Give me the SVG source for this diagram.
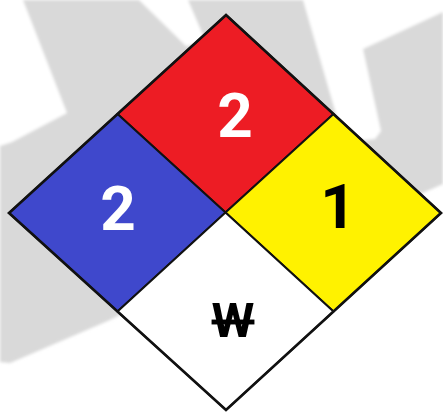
<svg xmlns="http://www.w3.org/2000/svg" width="443" height="412" viewBox="0 0 443 412">
<defs>
<style>
.q{stroke:#111;stroke-width:2;stroke-linejoin:miter}
.num{font-family:Roboto,"Liberation Sans",sans-serif;font-weight:700;text-anchor:middle}
</style>
<filter id="soft" x="-5%" y="-5%" width="110%" height="110%"><feGaussianBlur stdDeviation="1.8"/></filter>
</defs>
<rect width="443" height="412" fill="#ffffff"/>
<g id="watermark" filter="url(#soft)">
<polygon fill="#d9d9d9" points="0,0 443,0 443,184 400,203 226,260 110,320 10,363 0,362"/>
<polygon fill="#ffffff" points="0,0 23,0 67,113 12,142 0,146"/>
<polygon fill="#ffffff" points="139,0 188,0 206,42 186,46"/>
<polygon fill="#ffffff" points="303,0 443,0 443,12 363,49 381,131 375,139 355,141 340,128"/>
</g>
<g id="diamond">
<g id="flammability">
<polygon class="q" fill="#ED1C24" points="226,15 333.5,114 225.5,212.5 117.5,114"/>
<text class="num" x="235" y="137" font-size="62" fill="#ffffff">2</text>
</g>
<g id="health">
<polygon class="q" fill="#3F48CC" points="117.5,114 225.5,212.5 117.5,311.5 9,213"/>
<text class="num" x="118" y="230" font-size="62" fill="#ffffff">2</text>
</g>
<g id="instability">
<polygon class="q" fill="#FFF200" points="333.5,114 441,213 333.5,311.5 225.5,212.5"/>
<text class="num" x="338" y="228" font-size="62" fill="#000000">1</text>
</g>
<g id="special">
<polygon class="q" fill="#ffffff" points="225.5,212.5 333.5,311.5 226,410 117.5,311.5"/>
<text class="num" x="233" y="337" font-size="49" fill="#000000" style="text-decoration:line-through">W</text>
</g>
<polygon fill="none" stroke="#111" stroke-width="2.6" stroke-linejoin="miter" points="226,15 441,213 226,410 9,213"/>
</g>
</svg>
